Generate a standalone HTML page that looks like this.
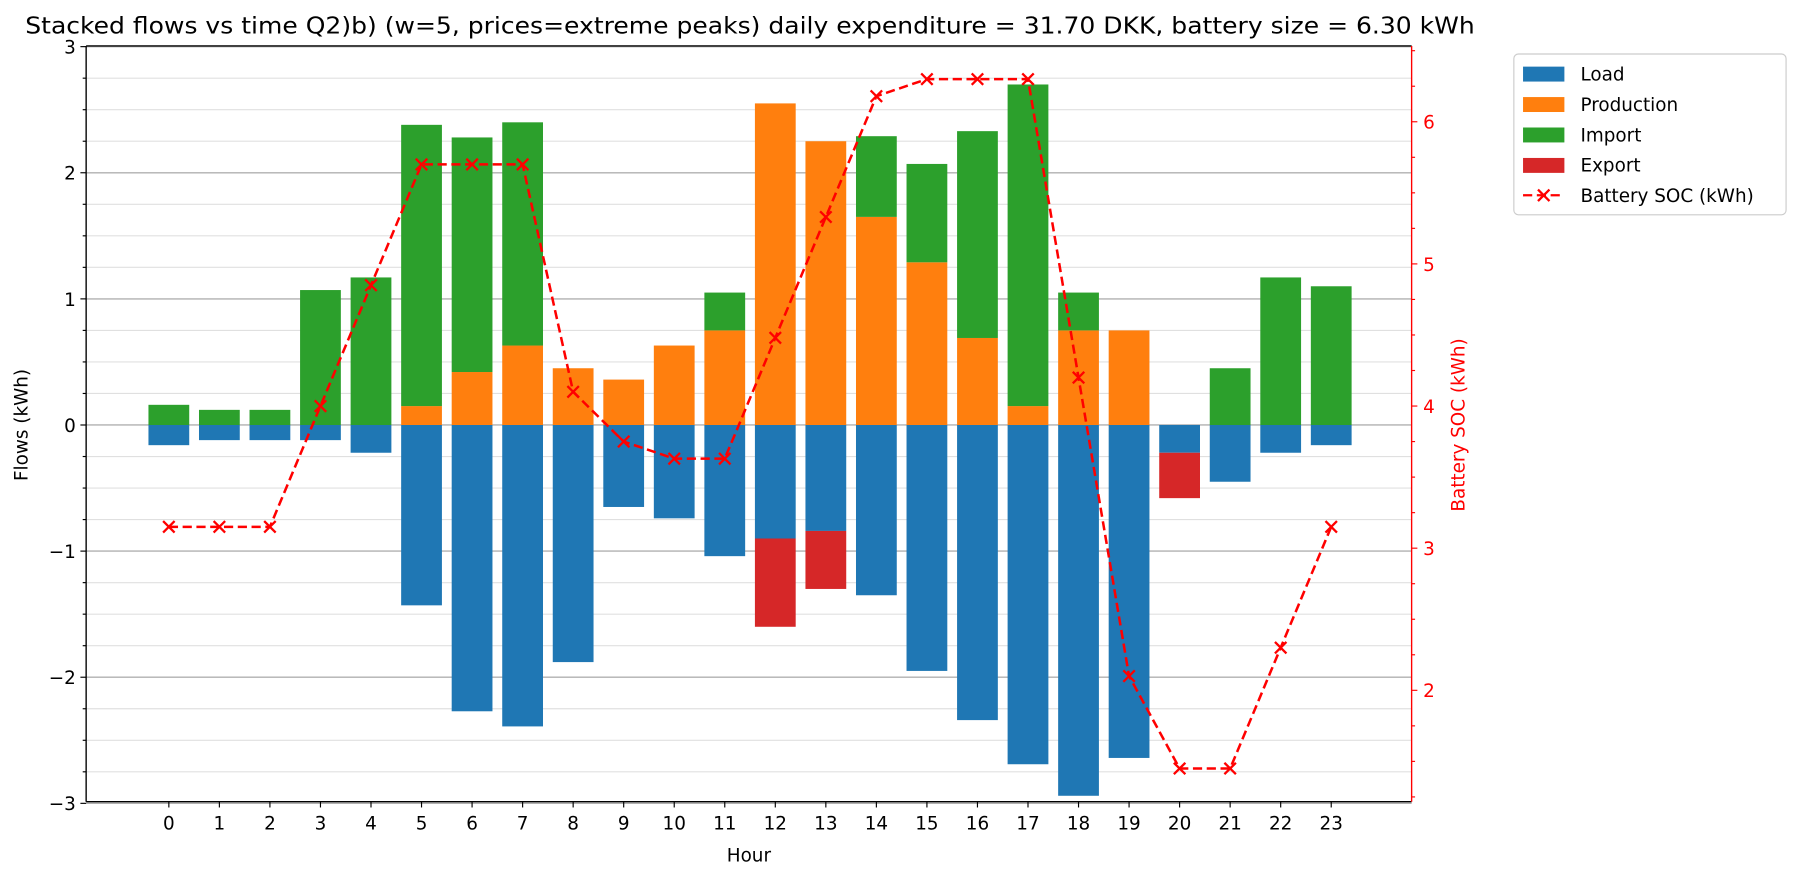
<!DOCTYPE html>
<html><head><meta charset="utf-8"><style>
body{margin:0;background:#fff;font-family:"Liberation Sans","DejaVu Sans",sans-serif;overflow:hidden;}
svg{display:block;}
svg text{font-family:"DejaVu Sans","Liberation Sans",sans-serif;}
</style></head><body>
<svg id="c" width="1801" height="881" viewBox="0 0 1568 767" xmlns="http://www.w3.org/2000/svg"></svg>
<script>
const hours=[0,1,2,3,4,5,6,7,8,9,10,11,12,13,14,15,16,17,18,19,20,21,22,23];
const loadVals=[-0.16,-0.12,-0.12,-0.12,-0.22,-1.43,-2.27,-2.39,-1.88,-0.65,-0.74,-1.04,-0.90,-0.84,-1.35,-1.95,-2.34,-2.69,-2.94,-2.64,-0.22,-0.45,-0.22,-0.16];
const exportVals=[0,0,0,0,0,0,0,0,0,0,0,0,-0.70,-0.46,0,0,0,0,0,0,-0.36,0,0,0];
const prodVals=[0,0,0,0,0,0.15,0.42,0.63,0.45,0.36,0.63,0.75,2.55,2.25,1.65,1.29,0.69,0.15,0.75,0.75,0,0,0,0];
const importVals=[0.16,0.12,0.12,1.07,1.17,2.23,1.86,1.77,0,0,0,0.30,0,0,0.64,0.78,1.64,2.55,0.30,0,0,0.45,1.17,1.10];
const socVals=[3.15,3.15,3.15,4.0,4.85,5.7,5.7,5.7,4.1,3.75,3.63,3.63,4.48,5.33,6.18,6.3,6.3,6.3,4.2,2.1,1.45,1.45,2.3,3.15];
const leftTicks=[-3,-2,-1,0,1,2,3];
const rightTicks=[2,3,4,5,6];

const L=75,R=1229,T=40,B=698;
const x=h=>147+h*44;
const y=v=>370-v*109.8;
const y2=v=>106+(6-v)*123.75;
const svg=document.getElementById('c');
const NS='http://www.w3.org/2000/svg';
function mk(tag,attrs,parent){const e=document.createElementNS(NS,tag);for(const k in attrs)e.setAttribute(k,attrs[k]);(parent||svg).appendChild(e);return e;}
function fmt(v){return v<0?'\u2212'+Math.abs(v):''+v;}

for(let v=-3;v<=3.001;v+=0.25){
  const major=Math.abs(v-Math.round(v))<1e-6;
  const g=mk('line',{x1:L,x2:R,y1:y(v),y2:y(v),stroke:major?'#b0b0b0':'#e0e0e0','stroke-width':major?1.2:1});
  
  
}
const bw=35.5;
function bar(h,v0,v1,col,name){
  const r=mk('rect',{x:x(h)-bw/2,y:Math.min(y(v0),y(v1)),width:bw,height:Math.abs(y(v1)-y(v0)),fill:col});
  
  
}
hours.forEach((h,i)=>{
  if(loadVals[i])bar(h,0,loadVals[i],'#1f77b4','load-bar-'+h);
  if(prodVals[i])bar(h,0,prodVals[i],'#ff7f0e','production-bar-'+h);
  if(importVals[i])bar(h,prodVals[i],prodVals[i]+importVals[i],'#2ca02c','import-bar-'+h);
  if(exportVals[i])bar(h,loadVals[i],loadVals[i]+exportVals[i],'#d62728','export-bar-'+h);
});
const pts=hours.map((h,i)=>x(h)+','+y2(socVals[i])).join(' ');
const pl=mk('polyline',{points:pts,fill:'none',stroke:'#ff0000','stroke-width':2.2,'stroke-dasharray':'8,4'});


hours.forEach((h,i)=>{
  const cx=x(h),cy=y2(socVals[i]);
  const m=mk('path',{d:`M${cx-5},${cy-5}L${cx+5},${cy+5}M${cx-5},${cy+5}L${cx+5},${cy-5}`,stroke:'#ff0000','stroke-width':2});
  
  
});
mk('line',{x1:L,x2:L,y1:T,y2:B,stroke:'#000','stroke-width':1.2});
mk('line',{x1:L,x2:R,y1:B,y2:B,stroke:'#000','stroke-width':1.2});
mk('line',{x1:L,x2:R,y1:T,y2:T,stroke:'#000','stroke-width':1.2});
mk('line',{x1:R,x2:R,y1:T,y2:B,stroke:'#ff0000','stroke-width':1.2});
for(let v=-3;v<=3.001;v+=0.25){
  const major=Math.abs(v-Math.round(v))<1e-6;
  mk('line',{x1:L-(major?5:3),x2:L,y1:y(v),y2:y(v),stroke:'#000','stroke-width':1});
}
leftTicks.forEach(v=>{
  const t=mk('text',{x:L-9,y:y(v)+6,'text-anchor':'end','font-size':16,fill:'#000'});t.textContent=fmt(v);
  
  
});
hours.forEach(h=>{
  mk('line',{x1:x(h),x2:x(h),y1:B,y2:B+5,stroke:'#000'});
  const t=mk('text',{x:x(h),y:B+24,'text-anchor':'middle','font-size':16});t.textContent=h;
  
  
});
rightTicks.forEach(v=>{
  mk('line',{x1:R,x2:R+5,y1:y2(v),y2:y2(v),stroke:'#ff0000'});
  const t=mk('text',{x:R+10,y:y2(v)+6,'font-size':16,fill:'#ff0000'});t.textContent=v;
  
  
});
for(let v=1.25;v<6.53;v+=0.25){if(Math.abs(v-Math.round(v))>1e-6)mk('line',{x1:R,x2:R+3,y1:y2(v),y2:y2(v),stroke:'#ff0000'});}
let t=mk('text',{x:652,y:750,'text-anchor':'middle','font-size':16});t.textContent='Hour';

t=mk('text',{x:24,y:370,'text-anchor':'middle','font-size':16,transform:'rotate(-90 24 370)'});t.textContent='Flows (kWh)';

t=mk('text',{x:1275,y:370,'text-anchor':'middle','font-size':16,fill:'#ff0000',transform:'rotate(-90 1275 370)'});
t.textContent='Battery SOC (kWh)';

t=mk('text',{x:653,y:29,'text-anchor':'middle','font-size':20,textLength:1262,lengthAdjust:'spacingAndGlyphs'});t.textContent='Stacked flows vs time Q2)b) (w=5, prices=extreme peaks) daily expenditure = 31.70 DKK, battery size = 6.30 kWh';

const lg=mk('g',{});

mk('rect',{x:1318,y:47,width:237,height:140,rx:4,fill:'#fff',stroke:'#ccc'},lg);
const items=[['Load','#1f77b4'],['Production','#ff7f0e'],['Import','#2ca02c'],['Export','#d62728']];
items.forEach((it,i)=>{
  const yy=64+i*26.5;
  mk('rect',{x:1326,y:yy-6,width:36,height:13,fill:it[1]},lg);
  const tx=mk('text',{x:1376,y:yy+6,'font-size':16},lg);tx.textContent=it[0];
  
});
const ly=170;
mk('line',{x1:1326,x2:1362,y1:ly,y2:ly,stroke:'#ff0000','stroke-width':2,'stroke-dasharray':'8,4'},lg);
mk('path',{d:`M1339,${ly-5}L1349,${ly+5}M1339,${ly+5}L1349,${ly-5}`,stroke:'#ff0000','stroke-width':2},lg);
const lt=mk('text',{x:1376,y:ly+6,'font-size':16},lg);lt.textContent='Battery SOC (kWh)';

</script>
</body></html>
